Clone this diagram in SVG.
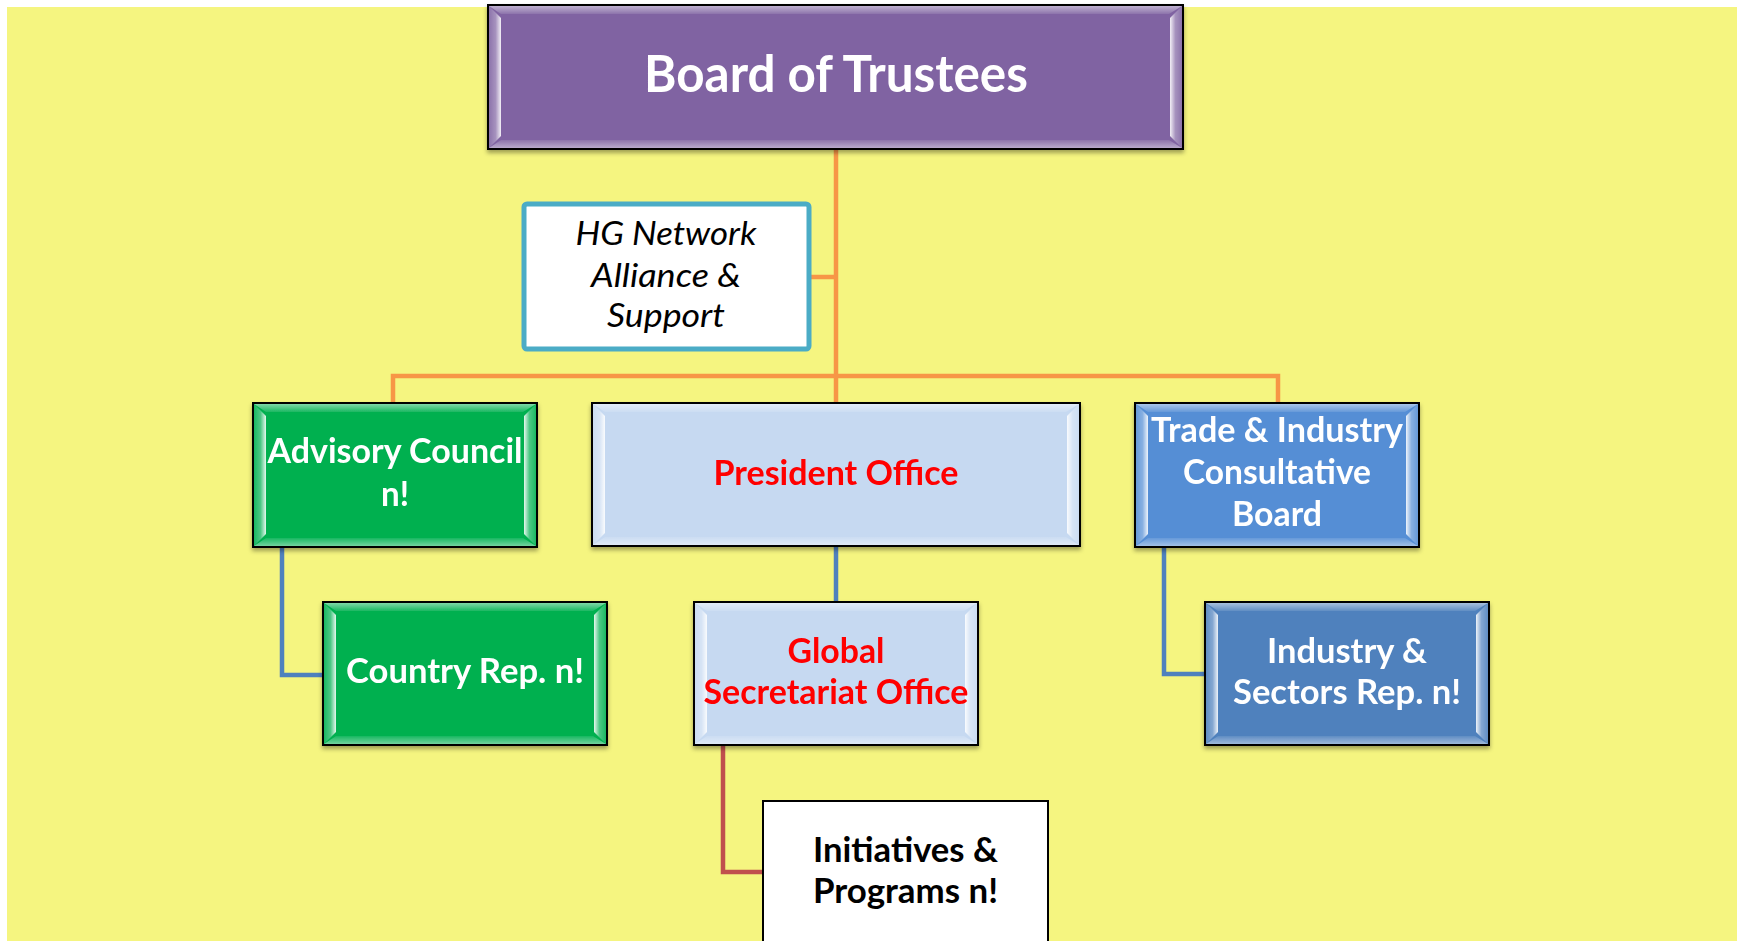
<svg xmlns="http://www.w3.org/2000/svg" width="1739" height="941" viewBox="0 0 1739 941">
<defs>
<linearGradient id="gL" x1="0" y1="0" x2="1" y2="0"><stop offset="0" stop-color="#fff" stop-opacity="0.1"/><stop offset="0.55" stop-color="#fff" stop-opacity="0.3"/><stop offset="1" stop-color="#fff" stop-opacity="0.9"/></linearGradient>
<linearGradient id="gR" x1="1" y1="0" x2="0" y2="0"><stop offset="0" stop-color="#fff" stop-opacity="0.1"/><stop offset="0.55" stop-color="#fff" stop-opacity="0.3"/><stop offset="1" stop-color="#fff" stop-opacity="0.9"/></linearGradient>
<linearGradient id="gT" x1="0" y1="0" x2="0" y2="1"><stop offset="0" stop-color="#fff" stop-opacity="0.5"/><stop offset="1" stop-color="#fff" stop-opacity="0.1"/></linearGradient>
<linearGradient id="gB" x1="0" y1="0" x2="0" y2="1"><stop offset="0" stop-color="#fff" stop-opacity="0.1"/><stop offset="1" stop-color="#fff" stop-opacity="0.45"/></linearGradient>
<filter id="sh" x="-5%" y="-5%" width="110%" height="120%"><feDropShadow dx="0" dy="3" stdDeviation="2" flood-color="#000" flood-opacity="0.35"/></filter>
</defs>
<style>
.box{stroke:#000;stroke-width:2}
.t{font-family:Lato,"Open Sans","Liberation Sans",sans-serif;font-weight:bold;font-size:35px;text-anchor:middle}
.big{font-size:52px}
.w{fill:#fff}
.r{fill:#ff0000}
.k{fill:#000}
.hg{font-family:Lato,"Open Sans","Liberation Sans",sans-serif;font-style:italic;font-size:32px;text-anchor:middle;fill:#000}
.or{stroke:#F79646;stroke-width:4.5;fill:none}
.bl{stroke:#4F81BD;stroke-width:4.5;fill:none}
.rd{stroke:#C0504D;stroke-width:4.5;fill:none}
.fl{fill:url(#gL)}.fr{fill:url(#gR)}.ft{fill:url(#gT)}.fb{fill:url(#gB)}
</style>
<rect x="0" y="0" width="1739" height="941" fill="#fff"/>
<rect x="7" y="7" width="1730" height="934" fill="#F5F580"/>
<g id="connectors">
<path class="or" d="M836 149 V403"/>
<path class="or" d="M809 277 H836"/>
<path class="or" d="M393 403 V376 H1278 V403"/>
<path class="bl" d="M282 547 V675 H323"/>
<path class="bl" d="M836 546 V602"/>
<path class="bl" d="M1164 547 V674 H1205"/>
<path class="rd" d="M723 745 V872 H763"/>
</g>
<g id="board" filter="url(#sh)">
<rect class="box" x="488" y="5" width="695" height="144" fill="#8064A2"/>
<polygon class="ft" points="489,6 1182,6 1169,14 501,14"/>
<polygon class="fb" points="489,148 1182,148 1169,140 501,140"/>
<polygon class="fl" points="489,6 501,18 501,136 489,148"/>
<polygon class="fr" points="1182,6 1170,18 1170,136 1182,148"/>
<text class="t big w" x="836" y="92" textLength="384" lengthAdjust="spacingAndGlyphs">Board of Trustees</text>
</g>
<g id="hg">
<rect x="524" y="204" width="285" height="145" rx="3" fill="#fff" stroke="#4BACC6" stroke-width="5"/>
<text class="hg" x="666" y="245" textLength="181" lengthAdjust="spacingAndGlyphs">HG Network</text>
<text class="hg" x="666" y="287" textLength="150" lengthAdjust="spacingAndGlyphs">Alliance &amp;</text>
<text class="hg" x="666" y="327" textLength="118" lengthAdjust="spacingAndGlyphs">Support</text>
</g>
<g id="advisory" filter="url(#sh)">
<rect class="box" x="253" y="403" width="284" height="144" fill="#00B050"/>
<polygon class="ft" points="254,404 536,404 523,412 266,412"/>
<polygon class="fb" points="254,546 536,546 523,538 266,538"/>
<polygon class="fl" points="254,404 266,416 266,534 254,546"/>
<polygon class="fr" points="536,404 524,416 524,534 536,546"/>
<text class="t w" x="395" y="463" textLength="255" lengthAdjust="spacingAndGlyphs">Advisory Council</text>
<text class="t w" x="395" y="506" textLength="28" lengthAdjust="spacingAndGlyphs">n!</text>
</g>
<g id="president" filter="url(#sh)">
<rect class="box" x="592" y="403" width="488" height="143" fill="#C6D9F1"/>
<polygon class="ft" points="593,404 1079,404 1066,412 605,412"/>
<polygon class="fb" points="593,545 1079,545 1066,537 605,537"/>
<polygon class="fl" points="593,404 605,416 605,533 593,545"/>
<polygon class="fr" points="1079,404 1067,416 1067,533 1079,545"/>
<text class="t r" x="836" y="485" textLength="245" lengthAdjust="spacingAndGlyphs">President Office</text>
</g>
<g id="trade" filter="url(#sh)">
<rect class="box" x="1135" y="403" width="284" height="144" fill="#558ED5"/>
<polygon class="ft" points="1136,404 1418,404 1405,412 1148,412"/>
<polygon class="fb" points="1136,546 1418,546 1405,538 1148,538"/>
<polygon class="fl" points="1136,404 1148,416 1148,534 1136,546"/>
<polygon class="fr" points="1418,404 1406,416 1406,534 1418,546"/>
<text class="t w" x="1277" y="442" textLength="252" lengthAdjust="spacingAndGlyphs">Trade &amp; Industry</text>
<text class="t w" x="1277" y="484" textLength="188" lengthAdjust="spacingAndGlyphs">Consultative</text>
<text class="t w" x="1277" y="526" textLength="90" lengthAdjust="spacingAndGlyphs">Board</text>
</g>
<g id="country" filter="url(#sh)">
<rect class="box" x="323" y="602" width="284" height="143" fill="#00B050"/>
<polygon class="ft" points="324,603 606,603 593,611 336,611"/>
<polygon class="fb" points="324,744 606,744 593,736 336,736"/>
<polygon class="fl" points="324,603 336,615 336,732 324,744"/>
<polygon class="fr" points="606,603 594,615 594,732 606,744"/>
<text class="t w" x="465" y="683" textLength="238" lengthAdjust="spacingAndGlyphs">Country Rep. n!</text>
</g>
<g id="global" filter="url(#sh)">
<rect class="box" x="694" y="602" width="284" height="143" fill="#C6D9F1"/>
<polygon class="ft" points="695,603 977,603 964,611 707,611"/>
<polygon class="fb" points="695,744 977,744 964,736 707,736"/>
<polygon class="fl" points="695,603 707,615 707,732 695,744"/>
<polygon class="fr" points="977,603 965,615 965,732 977,744"/>
<text class="t r" x="836" y="663" textLength="97" lengthAdjust="spacingAndGlyphs">Global</text>
<text class="t r" x="836" y="704" textLength="265" lengthAdjust="spacingAndGlyphs">Secretariat Office</text>
</g>
<g id="industry" filter="url(#sh)">
<rect class="box" x="1205" y="602" width="284" height="143" fill="#4F81BD"/>
<polygon class="ft" points="1206,603 1488,603 1475,611 1218,611"/>
<polygon class="fb" points="1206,744 1488,744 1475,736 1218,736"/>
<polygon class="fl" points="1206,603 1218,615 1218,732 1206,744"/>
<polygon class="fr" points="1488,603 1476,615 1476,732 1488,744"/>
<text class="t w" x="1347" y="663" textLength="160" lengthAdjust="spacingAndGlyphs">Industry &amp;</text>
<text class="t w" x="1347" y="704" textLength="228" lengthAdjust="spacingAndGlyphs">Sectors Rep. n!</text>
</g>
<g id="initiatives">
<rect class="box" x="763" y="801" width="285" height="170" fill="#fff"/>
<text class="t k" x="905.5" y="862" textLength="185" lengthAdjust="spacingAndGlyphs">Initiatives &amp;</text>
<text class="t k" x="905.5" y="903" textLength="185" lengthAdjust="spacingAndGlyphs">Programs n!</text>
</g>
</svg>
